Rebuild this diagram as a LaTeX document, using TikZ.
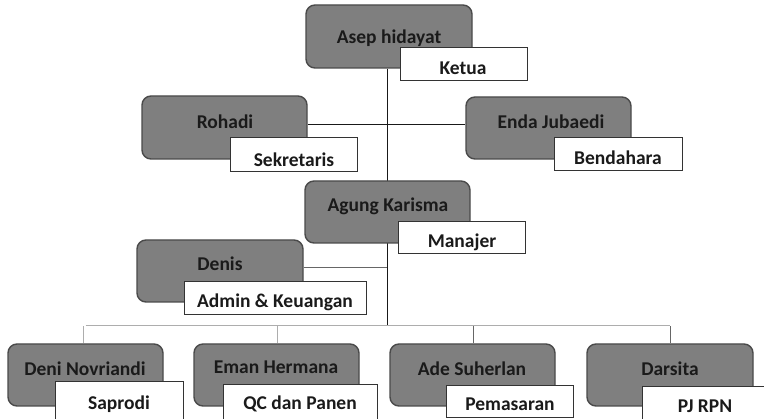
\documentclass[tikz,border=0pt]{standalone}
\usepackage{fontspec}
\setmainfont{Carlito}
\pgfdeclarelayer{links}
\pgfsetlayers{links,main}
\begin{document}
\begin{tikzpicture}[x=1pt,y=-1pt,
  person/.style={draw=boxedge,line width=1.4pt,fill=boxfill,rounded corners=9pt,inner sep=0pt},
  role/.style={draw=black!80,line width=1pt,fill=white,inner sep=0pt},
  txt/.style={font=\fontsize{19.5}{21}\selectfont\bfseries,text=txtcol,inner sep=0pt,anchor=center},
  darkline/.style={draw=black!90,line width=1pt},
  midline/.style={draw=black!60,line width=1pt},
  lightline/.style={draw=black!32,line width=1pt}]
\definecolor{boxfill}{HTML}{7F7F7F}
\definecolor{boxedge}{HTML}{4A4A4A}
\definecolor{txtcol}{HTML}{1A1A1A}
\useasboundingbox (0,0) rectangle (764,419);
\clip (0,0) rectangle (764,419);
% box helper: \orgbox{name}{x1}{y1}{x2}{y2}{style}
\newcommand{\orgbox}[6]{\node[#6,minimum width={#4-#2},minimum height={#5-#3}] (#1) at ({(#2+#4)/2},{(#3+#5)/2}) {};}
% persons
\orgbox{asep}{306}{5}{472}{68}{person}
\orgbox{rohadi}{142}{96}{307}{159}{person}
\orgbox{enda}{466}{97}{631}{159}{person}
\orgbox{agung}{305}{181}{470}{243}{person}
\orgbox{denis}{137}{240}{303}{302}{person}
\orgbox{deni}{8}{344}{163}{406}{person}
\orgbox{eman}{194}{344}{359}{406}{person}
\orgbox{ade}{390}{344}{555}{406}{person}
\orgbox{darsita}{587}{344}{753}{406}{person}
% roles
\orgbox{ketua}{400}{48}{527}{81}{role}
\orgbox{sekretaris}{230}{138}{357}{172}{role}
\orgbox{bendahara}{554}{138}{682}{171}{role}
\orgbox{manajer}{398}{222}{525}{254}{role}
\orgbox{admin}{184}{282}{366}{315}{role}
\orgbox{saprodi}{55}{382}{183}{430}{role}
\orgbox{qc}{223}{385}{377}{430}{role}
\orgbox{pemasaran}{446}{386}{573}{418}{role}
\orgbox{pjrpn}{642}{387}{780}{430}{role}
% names
\node[txt] (tasep) at (389,38) {Asep hidayat};
\node[txt] (trohadi) at (225,122) {Rohadi};
\node[txt] (tenda) at (551,122) {Enda Jubaedi};
\node[txt] (tagung) at (388,206) {Agung Karisma};
\node[txt] (tdenis) at (220,264) {Denis};
\node[txt] (tdeni) at (85,369) {Deni Novriandi};
\node[txt] (teman) at (276,367) {Eman Hermana};
\node[txt] (tade) at (472,369) {Ade Suherlan};
\node[txt] (tdarsita) at (670,369) {Darsita};
% role titles
\node[txt] (tketua) at (463,68) {Ketua};
\node[txt] (tsekretaris) at (294,160) {Sekretaris};
\node[txt] (tbendahara) at (618,158) {Bendahara};
\node[txt] (tmanajer) at (462,242) {Manajer};
\node[txt] (tadmin) at (275,302) {Admin \& Keuangan};
\node[txt] (tsaprodi) at (119,404) {Saprodi};
\node[txt] (tqc) at (300,404) {QC dan Panen};
\node[txt] (tpemasaran) at (510,404) {Pemasaran};
\node[txt] (tpjrpn) at (705,406) {PJ RPN};
% connectors, kept underneath the boxes
\coordinate (trunk) at (387,326);
\coordinate (pairrow) at (387,125);
\coordinate (adminrow) at (387,268);
\begin{pgfonlayer}{links}
  \draw[darkline] (asep.south -| trunk) -- (trunk);
  \draw[darkline] (rohadi.east |- pairrow) -- (enda.west |- pairrow);
  \draw[midline] (denis.east |- adminrow) -- (adminrow);
  \draw[lightline] (deni.north |- trunk) -- (darsita.north |- trunk);
  \draw[lightline] (deni.north -| 83,0) -- (trunk -| 83,0);
  \draw[lightline] (eman.north -| 277,0) -- (trunk -| 277,0);
  \draw[midline] (ade.north -| 473,0) -- (trunk -| 473,0);
  \draw[midline] (darsita.north) -- (darsita.north |- trunk);
\end{pgfonlayer}
\end{tikzpicture}
\end{document}
